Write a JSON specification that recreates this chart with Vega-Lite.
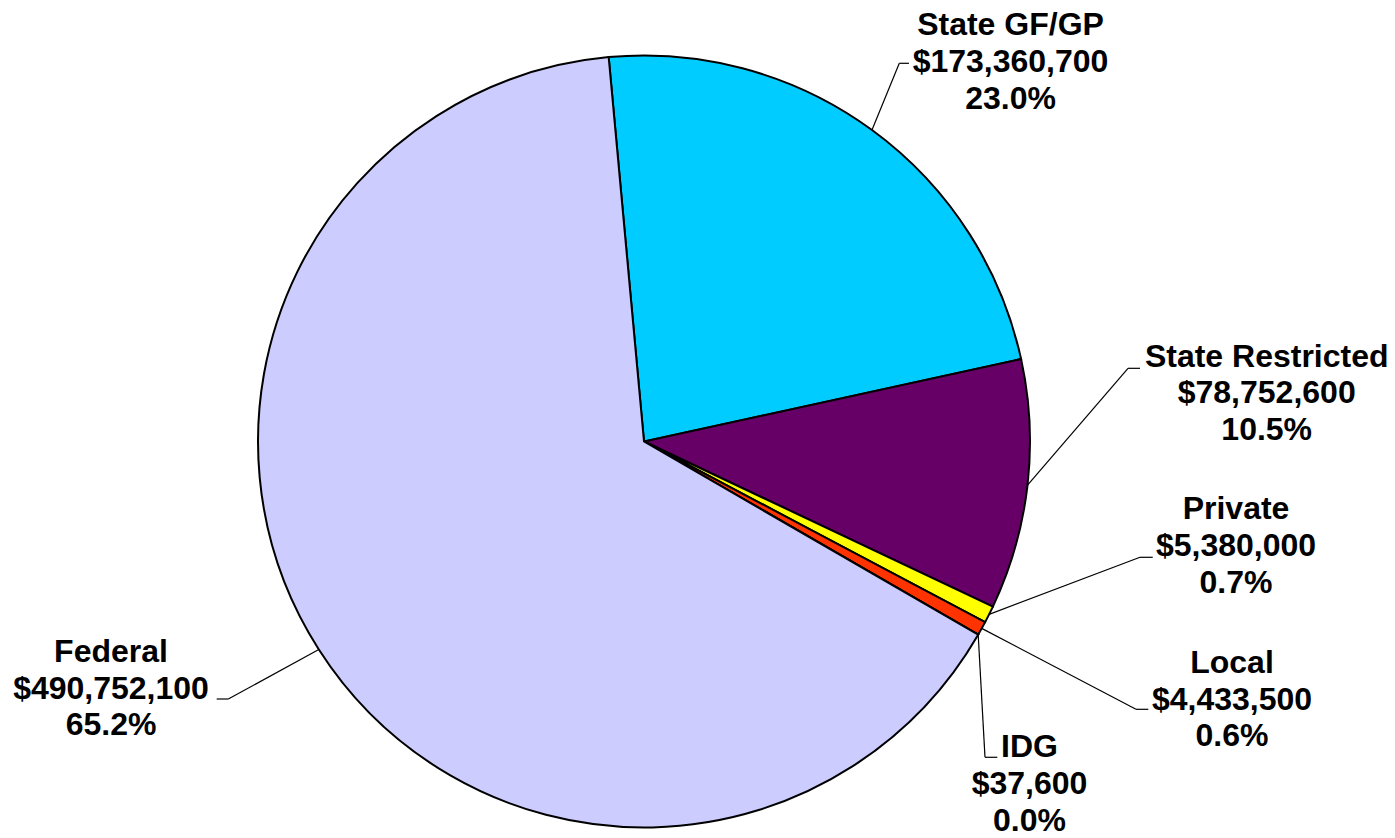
{
  "$schema": "https://vega.github.io/schema/vega-lite/v6.json",
  "width": 1395,
  "height": 838,
  "autosize": {"type": "fit", "contains": "padding"},
  "padding": 0,
  "background": "white",
  "config": {
    "view": {"stroke": null},
    "axis": {"disable": true},
    "legend": {"disable": true},
    "text": {"font": "Liberation Sans", "fontWeight": "bold", "fontSize": 32, "align": "center", "baseline": "alphabetic", "color": "black"},
    "rule": {"color": "black", "strokeWidth": 1.2}
  },
  "data": {
    "values": [
      {"source": "State GF/GP", "amount": 173360700, "pct": 0.230, "rank": 1},
      {"source": "State Restricted", "amount": 78752600, "pct": 0.105, "rank": 2},
      {"source": "Private", "amount": 5380000, "pct": 0.007, "rank": 3},
      {"source": "Local", "amount": 4433500, "pct": 0.006, "rank": 4},
      {"source": "IDG", "amount": 37600, "pct": 0.000, "rank": 5},
      {"source": "Federal", "amount": 490752100, "pct": 0.652, "rank": 6}
    ]
  },
  "layer": [
    {
      "mark": {"type": "arc", "radius": 386, "stroke": "black", "strokeWidth": 2},
      "encoding": {
        "x": {"datum": 0, "type": "quantitative", "scale": {"domain": [-1.66839, 1.9456], "nice": false, "zero": false}, "axis": null},
        "y": {"datum": 0, "type": "quantitative", "scale": {"domain": [-1.0272, 1.14378], "nice": false, "zero": false}, "axis": null},
        "theta": {"field": "amount", "type": "quantitative", "stack": true, "scale": {"range": [-0.09163, 6.19156]}},
        "color": {
          "field": "source", "type": "nominal", "legend": null,
          "scale": {
            "domain": ["State GF/GP", "State Restricted", "Private", "Local", "IDG", "Federal"],
            "range": ["#00CCFF", "#660066", "#FFFF00", "#FF3300", "#3366CC", "#CCCCFF"]
          }
        },
        "order": {"field": "rank", "type": "quantitative"}
      }
    },
    {
      "transform": [{"filter": "datum.source === 'State GF/GP'"}],
      "layer": [
        {"mark": "rule", "encoding": {"x": {"datum": 0.5906}, "y": {"datum": 0.8070}, "x2": {"datum": 0.6614}, "y2": {"datum": 0.9798}}},
        {"mark": "rule", "encoding": {"x": {"datum": 0.6614}, "y": {"datum": 0.9798}, "x2": {"datum": 0.6865}, "y2": {"datum": 0.9798}}},
        {"mark": {"type": "text", "dy": 0}, "encoding": {"x": {"datum": 0.9495}, "y": {"datum": 1.0531}, "text": {"field": "source", "type": "nominal"}}},
        {"mark": {"type": "text", "dy": 36.8}, "encoding": {"x": {"datum": 0.9495}, "y": {"datum": 1.0531}, "text": {"field": "amount", "type": "quantitative", "format": "$,.0f"}}},
        {"mark": {"type": "text", "dy": 73.6}, "encoding": {"x": {"datum": 0.9495}, "y": {"datum": 1.0531}, "text": {"field": "pct", "type": "quantitative", "format": ".1%"}}}
      ]
    },
    {
      "transform": [{"filter": "datum.source === 'State Restricted'"}],
      "layer": [
        {"mark": "rule", "encoding": {"x": {"datum": 0.9936}, "y": {"datum": -0.1130}, "x2": {"datum": 1.2539}, "y2": {"datum": 0.1896}}},
        {"mark": "rule", "encoding": {"x": {"datum": 1.2539}, "y": {"datum": 0.1896}, "x2": {"datum": 1.2850}, "y2": {"datum": 0.1896}}},
        {"mark": {"type": "text", "dy": 0}, "encoding": {"x": {"datum": 1.6132}, "y": {"datum": 0.1938}, "text": {"field": "source", "type": "nominal"}}},
        {"mark": {"type": "text", "dy": 36.8}, "encoding": {"x": {"datum": 1.6132}, "y": {"datum": 0.1938}, "text": {"field": "amount", "type": "quantitative", "format": "$,.0f"}}},
        {"mark": {"type": "text", "dy": 73.6}, "encoding": {"x": {"datum": 1.6132}, "y": {"datum": 0.1938}, "text": {"field": "pct", "type": "quantitative", "format": ".1%"}}}
      ]
    },
    {
      "transform": [{"filter": "datum.source === 'Private'"}],
      "layer": [
        {"mark": "rule", "encoding": {"x": {"datum": 0.8941}, "y": {"datum": -0.4478}, "x2": {"datum": 1.2850}, "y2": {"datum": -0.3000}}},
        {"mark": "rule", "encoding": {"x": {"datum": 1.2850}, "y": {"datum": -0.3000}, "x2": {"datum": 1.3179}, "y2": {"datum": -0.3000}}},
        {"mark": {"type": "text", "dy": 0}, "encoding": {"x": {"datum": 1.5337}, "y": {"datum": -0.2016}, "text": {"field": "source", "type": "nominal"}}},
        {"mark": {"type": "text", "dy": 36.8}, "encoding": {"x": {"datum": 1.5337}, "y": {"datum": -0.2016}, "text": {"field": "amount", "type": "quantitative", "format": "$,.0f"}}},
        {"mark": {"type": "text", "dy": 73.6}, "encoding": {"x": {"datum": 1.5337}, "y": {"datum": -0.2016}, "text": {"field": "pct", "type": "quantitative", "format": ".1%"}}}
      ]
    },
    {
      "transform": [{"filter": "datum.source === 'Local'"}],
      "layer": [
        {"mark": "rule", "encoding": {"x": {"datum": 0.8749}, "y": {"datum": -0.4842}, "x2": {"datum": 1.2746}, "y2": {"datum": -0.6938}}},
        {"mark": "rule", "encoding": {"x": {"datum": 1.2746}, "y": {"datum": -0.6938}, "x2": {"datum": 1.3065}, "y2": {"datum": -0.6938}}},
        {"mark": {"type": "text", "dy": 0}, "encoding": {"x": {"datum": 1.5233}, "y": {"datum": -0.5990}, "text": {"field": "source", "type": "nominal"}}},
        {"mark": {"type": "text", "dy": 36.8}, "encoding": {"x": {"datum": 1.5233}, "y": {"datum": -0.5990}, "text": {"field": "amount", "type": "quantitative", "format": "$,.0f"}}},
        {"mark": {"type": "text", "dy": 73.6}, "encoding": {"x": {"datum": 1.5233}, "y": {"datum": -0.5990}, "text": {"field": "pct", "type": "quantitative", "format": ".1%"}}}
      ]
    },
    {
      "transform": [{"filter": "datum.source === 'IDG'"}],
      "layer": [
        {"mark": "rule", "encoding": {"x": {"datum": 0.8658}, "y": {"datum": -0.5005}, "x2": {"datum": 0.8834}, "y2": {"datum": -0.8181}}},
        {"mark": "rule", "encoding": {"x": {"datum": 0.8834}, "y": {"datum": -0.8181}, "x2": {"datum": 0.9153}, "y2": {"datum": -0.8181}}},
        {"mark": {"type": "text", "dy": 0}, "encoding": {"x": {"datum": 0.9987}, "y": {"datum": -0.8181}, "text": {"field": "source", "type": "nominal"}}},
        {"mark": {"type": "text", "dy": 36.8}, "encoding": {"x": {"datum": 0.9987}, "y": {"datum": -0.8181}, "text": {"field": "amount", "type": "quantitative", "format": "$,.0f"}}},
        {"mark": {"type": "text", "dy": 73.6}, "encoding": {"x": {"datum": 0.9987}, "y": {"datum": -0.8181}, "text": {"field": "pct", "type": "quantitative", "format": ".1%"}}}
      ]
    },
    {
      "transform": [{"filter": "datum.source === 'Federal'"}],
      "layer": [
        {"mark": "rule", "encoding": {"x": {"datum": -0.8425}, "y": {"datum": -0.5388}, "x2": {"datum": -1.0769}, "y2": {"datum": -0.6671}}},
        {"mark": "rule", "encoding": {"x": {"datum": -1.0769}, "y": {"datum": -0.6671}, "x2": {"datum": -1.1070}, "y2": {"datum": -0.6671}}},
        {"mark": {"type": "text", "dy": 0}, "encoding": {"x": {"datum": -1.3808}, "y": {"datum": -0.5705}, "text": {"field": "source", "type": "nominal"}}},
        {"mark": {"type": "text", "dy": 36.8}, "encoding": {"x": {"datum": -1.3808}, "y": {"datum": -0.5705}, "text": {"field": "amount", "type": "quantitative", "format": "$,.0f"}}},
        {"mark": {"type": "text", "dy": 73.6}, "encoding": {"x": {"datum": -1.3808}, "y": {"datum": -0.5705}, "text": {"field": "pct", "type": "quantitative", "format": ".1%"}}}
      ]
    }
  ]
}
